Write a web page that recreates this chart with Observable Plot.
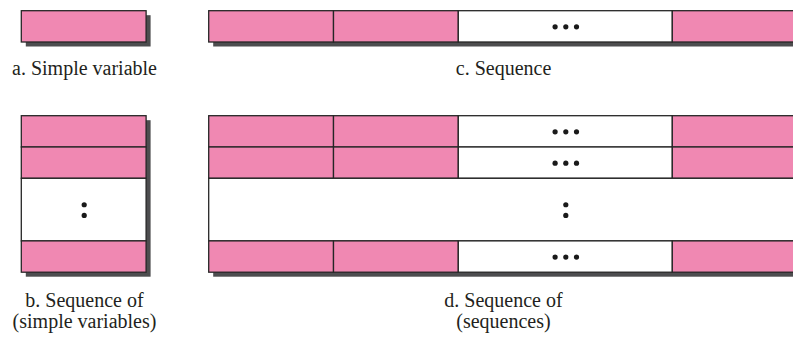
<!DOCTYPE html>
<html><head><meta charset="utf-8">
<script src="https://cdn.jsdelivr.net/npm/d3@7"></script>
<script src="https://cdn.jsdelivr.net/npm/@observablehq/plot@0.6"></script>
<style>html,body{margin:0;padding:0;background:#fff;} svg{display:block}</style>
</head><body><div id="chart"></div>
<script>
// ---- data ----
const panelIds = ["a", "b", "c", "d"];
const panelKinds = ["variable", "sequenceOfVariables", "sequence", "sequenceOfSequences"];
const sequenceCells = ["item", "item", "more", "item"];   // cells of one sequence
const sequenceRows = ["row", "row", "more", "row"];       // rows of a "sequence of"
const labelLines = [
  ["a. Simple variable"],
  ["b. Sequence of", "(simple variables)"],
  ["c. Sequence"],
  ["d. Sequence of", "(sequences)"]
];

// ---- layout (code, not data) ----
const W = 793, H = 341;
const CELL_W = 124.8, MORE_W = 214, ROW_H = 31.3;
const origin = {a: [21.3, 10.7], b: [21.3, 115.7], c: [208.7, 10.7], d: [208.7, 115.7]};
const labelX = {a: 84, b: 84, c: 503, d: 503};
const labelY = {a: 68, b: 300, c: 68, d: 300};
const LINE_GAP = 21;
const PINK = "#f088b2";
const SERIF = "Liberation Serif";

const cellW = k => k === "more" ? MORE_W : CELL_W;
const rowH = k => k === "more" ? 2 * ROW_H : ROW_H;
const seqWidth = d3.sum(sequenceCells, cellW);

const rects = [], shadows = [], dots = [], labels = [];

function seqRow(x0, y0, h) {
  let x = x0;
  for (const c of sequenceCells) {
    const w = cellW(c);
    rects.push({x1: x, x2: x + w, y1: y0, y2: y0 + h, fill: c === "item" ? PINK : "#fff"});
    if (c === "more") for (const k of [-1, 0, 1]) dots.push({x: x + w / 2 + k * 10.7, y: y0 + h / 2});
    x += w;
  }
}

panelIds.forEach((id, i) => {
  const kind = panelKinds[i];
  const [x0, y0] = origin[id];
  let width, height;
  if (kind === "variable") {
    width = CELL_W; height = ROW_H;
    rects.push({x1: x0, x2: x0 + width, y1: y0, y2: y0 + height, fill: PINK});
  } else if (kind === "sequence") {
    width = seqWidth; height = ROW_H;
    seqRow(x0, y0, ROW_H);
  } else {
    width = kind === "sequenceOfVariables" ? CELL_W : seqWidth;
    let y = y0;
    for (const r of sequenceRows) {
      const h = rowH(r);
      if (r === "more") {
        rects.push({x1: x0, x2: x0 + width, y1: y, y2: y + h, fill: "#fff"});
        let cx = x0 + width / 2;
        if (kind === "sequenceOfSequences") {
          let x = x0;
          for (const c of sequenceCells) { if (c === "more") { cx = x + cellW(c) / 2; break; } x += cellW(c); }
        }
        for (const k of [-0.5, 0.5]) dots.push({x: cx, y: y + h / 2 + k * 10.7});
      } else if (kind === "sequenceOfVariables") {
        rects.push({x1: x0, x2: x0 + width, y1: y, y2: y + h, fill: PINK});
      } else {
        seqRow(x0, y, h);
      }
      y += h;
    }
    height = y - y0;
  }
  shadows.push({x1: x0 + 4.5, x2: x0 + width + 4.5, y1: y0 + 4.5, y2: y0 + height + 4.5});
  labelLines[i].forEach((t, j) => labels.push({x: labelX[id], y: labelY[id] + j * LINE_GAP, text: t}));
});

const chart = Plot.plot({
  width: W, height: H,
  margin: 0,
  x: {domain: [0, W], range: [0, W], axis: null},
  y: {domain: [0, H], range: [0, H], axis: null},
  style: {background: "#fff"},
  marks: [
    Plot.rect(shadows, {x1: "x1", x2: "x2", y1: "y1", y2: "y2", fill: "#4d4d4f"}),
    Plot.rect(rects, {x1: "x1", x2: "x2", y1: "y1", y2: "y2", fill: d => d.fill, stroke: "#262626", strokeWidth: 1.3}),
    Plot.dot(dots, {x: "x", y: "y", r: 2.6, fill: "#1a1a1a", stroke: null}),
    Plot.text(labels, {x: "x", y: "y", text: "text", fontSize: 20, fontFamily: SERIF, fill: "#231f20"})
  ]
});
chart.style.setProperty("font-family", SERIF, "important");
d3.select(chart).selectAll("g, text, tspan").attr("font-family", SERIF).style("font-family", SERIF, "important");
document.getElementById("chart").append(chart);
</script>
</body></html>
